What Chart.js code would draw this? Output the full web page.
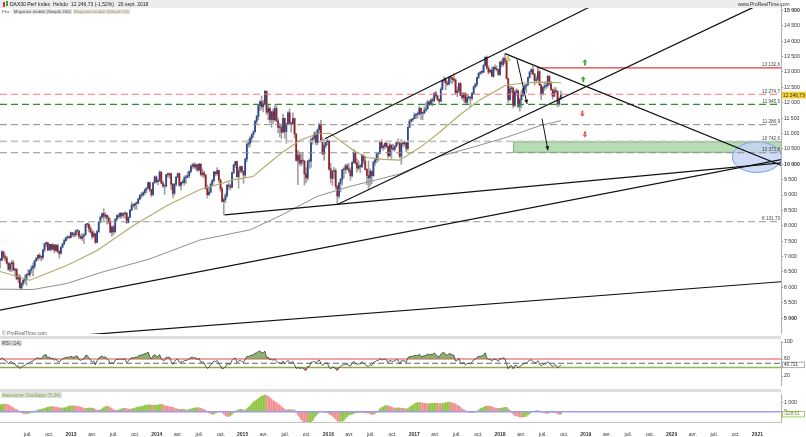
<!DOCTYPE html>
<html>
<head>
<meta charset="utf-8">
<title>DAX30 Perf Index - Hebdo</title>
<script src="https://cdn.jsdelivr.net/npm/chart.js@4.4.1/dist/chart.umd.min.js"></script>
<style>
  body { margin:0; background:#fff; font-family:"Liberation Sans", Arial, sans-serif; }
  #wrap { position:relative; width:806px; height:437px; overflow:hidden; background:#fff; }
  canvas { position:absolute; left:0; }
  .sep { position:absolute; left:0; width:781px; height:3px; background:#dedede; }
  .txt { position:absolute; font-size:5px; line-height:6px; white-space:nowrap; z-index:3; color:#222; }
  #band { position:absolute; left:0; top:0; width:781px; height:8px; background:#ececec; z-index:2; }
  .box { background:#e3e3e3; padding:0 1px; }
  #legendRow { font-size:4.3px; }
  #legendRow span { margin-right:1px; }
</style>
</head>
<body>
<div id="wrap">
  <div class="sep" style="top:336px"></div>
  <div class="sep" style="top:389px"></div>
  <canvas id="main" width="806" height="338" style="top:0"></canvas>
  <canvas id="rsi" width="806" height="53" style="top:337px"></canvas>
  <canvas id="ao" width="806" height="47" style="top:390px"></canvas>

  <div id="band"></div>
  <div style="position:absolute;left:3px;top:2px;width:2px;height:5px;background:#d33;z-index:3"></div>
  <div style="position:absolute;left:6px;top:1px;width:2px;height:5px;background:#3a3;z-index:3"></div>
  <div class="txt" style="left:10px;top:1px;color:#111">DAX30 Perf Index</div>
  <div class="txt" style="left:53px;top:1px">Hebdo</div>
  <div class="txt" style="left:71px;top:1px">12 246,73 (-1,52%)</div>
  <div class="txt" style="left:118px;top:1px">20 sept. 2018</div>
  <div class="txt" style="left:738px;top:1px;color:#333">www.ProRealTime.com</div>
  <div class="txt" id="legendRow" style="left:2px;top:9px;color:#444">
    <span>Prix :</span><span class="box" style="color:#555">Moyenne mobile (Simple 200)</span><span class="box" style="color:#a39b55">Moyenne mobile (Simple 50)</span>
  </div>
  <div class="txt" style="left:2px;top:330px;color:#666">© ProRealTime.com</div>
  <div class="txt box" style="left:1px;top:340px;color:#444">RSI (14)</div>
  <div class="txt box" style="left:1px;top:392px;color:#7aa83a">Awesome Oscillator (5,34)</div>
</div>

<script>
// weekly closes before the visible range (Jul 2011 - Feb 2012), only used to warm up the indicators
const preCloses = [7121,7419,7419,7220,7344,7158,6236,5997,5480,5537,5246,5190,5574,5334,5502,5675,5967,5971,6346,5966,6057,5800,5492,6080,5987,5702,5878,5898,6058,6143,6404,6511,6766,6692,6849,6864];

// weekly candles, first week starts 2012-02-27 ; open = previous close
const firstWeek = '2012-02-27';
const closes2012 = [6922,6880,7157,6996,6947,6775,6583,6762,6801,6561,6579,6271,6339,5978,6130,6229,6263,6416,6410,6558,6630,6689,6866,6945,7041,6972,6970,7214,7412,7451,7216,7398,7233,7380,7203,7363,7163,7101,7309,7405,7517,7614,7636,7612];
const highs2012  = [7001,6946,7194,7158,7078,7012,6818,6800,6875,6878,6625,6620,6430,6416,6165,6288,6392,6440,6576,6566,6706,6800,6880,6977,7066,7108,7027,7234,7440,7478,7460,7406,7400,7422,7395,7398,7402,7210,7320,7441,7570,7620,7676,7665];
const lows2012   = [6802,6631,6870,6925,6853,6752,6545,6505,6502,6550,6364,6258,6151,5969,5914,6054,6132,6061,6388,6335,6462,6367,6600,6840,6890,6910,6860,6904,7150,7320,7180,7200,7180,7226,7120,7170,7120,6950,7080,7280,7400,7490,7560,7586];

const closes2013 = [7776,7715,7702,7833,7833,7652,7593,7661,7708,8045,8043,7913,7795,7658,7745,7459,7814,8122,8279,8398,8305,8349,8254,8127,7790,7959,7806,8213,8331,8300,8410,8338,8391,8416,8103,8276,8509,8675,8661,8725,8725,8868,8985,9009,9078,9168,9225,9405,9172,9006,9400,9589];
const highs2013  = [7800,7776,7780,7865,7871,7840,7720,7755,7740,8059,8076,8080,7990,7871,7826,7760,7860,8145,8318,8411,8557,8434,8350,8315,8240,8000,8010,8231,8360,8400,8423,8426,8430,8450,8420,8290,8530,8770,8710,8740,8778,8904,9019,9082,9112,9200,9240,9424,9407,9190,9410,9620];
const lows2013   = [7610,7645,7630,7650,7704,7580,7570,7520,7420,7690,7950,7800,7760,7570,7612,7419,7455,7780,8090,8230,8170,8230,8050,8060,7780,7655,7710,7780,8150,8240,8240,8250,8270,8240,8080,8090,8270,8490,8580,8530,8540,8720,8840,8910,8960,9010,9080,9200,9100,8950,9000,9380];

const closes2014 = [9435,9473,9742,9392,9306,9290,9662,9656,9692,9350,9056,9342,9587,9695,9315,9409,9401,9556,9581,9630,9768,9943,9987,9912,9987,9815,10009,9666,9720,9644,9210,9009,9092,9339,9470,9747,9691,9799,9490,9195,8788,8850,8987,9326,9291,9252,9732,9980,10087,9594,9787,9923];
const highs2014  = [9620,9511,9794,9760,9460,9310,9670,9720,9720,9710,9380,9380,9600,9720,9720,9420,9500,9620,9640,9740,9790,9960,10030,10050,10020,9990,10030,10010,9850,9780,9680,9330,9260,9400,9510,9770,9760,9891,9800,9520,9250,8900,9050,9340,9400,9350,9740,10000,10093,10100,9900,9950];
const lows2014   = [9390,9330,9440,9360,9240,9017,9260,9580,9550,9180,8908,9000,9290,9560,9280,9170,9360,9320,9380,9570,9550,9720,9860,9870,9820,9760,9780,9620,9590,9560,9180,8903,8990,9070,9290,9420,9620,9640,9420,9120,8780,8355,8760,8930,9180,9160,9230,9700,9900,9580,9219,9720];

const closes2015 = [9765,9649,10168,10649,10694,10846,10963,11050,11401,11551,11901,12040,11868,11967,12375,11689,11811,11454,11709,11447,11815,11413,11197,11197,11040,11492,11058,11315,11673,11347,11309,11490,10985,10124,10298,10038,10123,10104,9688,9553,10096,10104,10795,10850,10988,10708,11119,11293,10752,10340,10608,10728,10743];
const highs2015  = [9930,9800,10200,10700,10810,10900,10990,11090,11420,11600,11920,12060,12220,12080,12390,12380,11950,11870,11710,11800,11920,11890,11500,11330,11280,11630,11500,11340,11710,11800,11370,11670,11500,10990,10450,10400,10350,10370,10120,9890,10130,10190,10850,10900,11060,11060,11150,11340,11430,10860,10800,10760,10820];
const lows2015   = [9720,9380,9600,10080,10540,10580,10720,10870,11040,11320,11450,11740,11780,11700,11940,11620,11450,11350,11200,11310,11400,11380,11030,10890,10830,11030,10860,10680,11300,11320,11040,11300,10850,10100,9338,9970,9950,10000,9325,9390,9480,9860,9900,10650,10750,10630,10640,11020,10710,10300,10130,10530,10620];

const closes2016 = [9849,9545,9764,9798,9286,8967,9388,9513,9824,9831,9950,9851,9794,9622,10051,10373,10039,9870,9952,9917,10287,10103,9834,9631,9557,9776,9630,10067,10147,10337,10367,10713,10544,10588,10684,10573,10276,10626,10511,10490,10580,10711,10696,10259,10668,10664,10699,10513,11203,11404,11450,11481];
const highs2016  = [10780,10030,9800,9900,9850,9310,9410,9540,9830,9890,10000,10010,10030,9890,10090,10480,10400,10180,10110,9990,10300,10310,10230,9860,10110,9850,9780,10100,10200,10350,10400,10750,10800,10640,10700,10750,10600,10690,10630,10660,10620,10740,10830,10710,10800,10750,10760,10720,11210,11450,11480,11500];
const lows2016   = [9800,9400,9310,9530,9200,8699,8900,9100,9330,9550,9700,9810,9710,9480,9590,10040,10000,9740,9820,9730,9900,10000,9810,9340,9214,9300,9370,9600,9960,10050,10100,10340,10500,10450,10500,10530,10200,10250,10160,10440,10420,10560,10640,10200,10000,10560,10600,10400,10450,11180,11360,11390];

const closes2017 = [11599,11629,11630,11814,11651,11666,11757,11804,12027,11963,12095,12064,12313,12225,12109,12049,12438,12717,12770,12638,12602,12823,12816,12753,12733,12325,12389,12632,12240,12163,12298,12014,12165,12168,12143,12304,12519,12592,12829,12956,12992,12992,13218,13479,13127,12994,13060,12861,13154,13104,13073,12918];
const highs2017  = [11670,11640,11700,11890,11830,11700,11870,12000,12080,12060,12130,12160,12330,12375,12250,12120,12490,12730,12840,12810,12700,12850,12880,12830,12950,12790,12520,12650,12650,12340,12320,12330,12270,12230,12200,12330,12550,12640,12830,12980,13020,13050,13240,13490,13526,13200,13080,13150,13170,13230,13200,13090];
const lows2017   = [11480,11480,11500,11600,11450,11450,11640,11700,11780,11900,11920,11890,12030,12150,12060,11930,12030,12420,12660,12420,12560,12580,12650,12620,12680,12290,12200,12320,12220,12100,12040,11990,11940,12080,11868,12080,12280,12470,12530,12780,12920,12930,12980,13200,13090,12930,12990,12850,12820,13060,13030,12890];

const closes2018 = [13320,13245,13434,13340,12785,12107,12452,12483,11914,12346,12390,11886,12097,12241,12442,12540,12580,12820,13001,13078,12938,12724,12767,13011,12580,12306,12496,12541,12561,12860,12616,12424,12211,12394,12364,11960,12124,12246.73];
const highs2018  = [13340,13390,13480,13597,13400,12800,12550,12530,12490,12400,12460,12420,12150,12400,12480,12600,12590,12830,13020,13100,13200,12950,12860,13170,13050,12590,12530,12630,12690,12890,12870,12690,12440,12490,12490,12400,12180,12380];
const lows2018   = [12880,13160,13190,13270,12770,12000,12070,12330,11830,11880,12240,11840,11726,11830,12200,12380,12330,12560,12800,12920,12900,12570,12640,12710,12550,12100,12250,12400,12460,12500,12560,12400,12110,12190,12320,11865,11900,12100];

const lastClose = 12246.73, lastCloseLabel = '12 246,73';

// moving averages (decimal year, value)
const ma50Years = [2012.17,2012.52,2012.95,2013.30,2013.72,2014.12,2014.50,2014.89,2015.12,2015.28,2015.47,2015.67,2015.87,2016.02,2016.29,2016.45,2016.64,2016.83,2017.07,2017.30,2017.53,2017.77,2018.06,2018.27,2018.47,2018.71];
const ma50      = [6518,6229,6710,7192,7995,8659,9172,9493,9600,9975,10401,10777,10992,11010,10456,10221,10158,10135,10550,11050,11600,12100,12560,12640,12670,12650];
const ma200Years = [2012.17,2012.56,2012.95,2013.34,2013.92,2014.50,2015.09,2015.47,2015.87,2016.25,2016.83,2017.30,2017.69,2018.08,2018.47,2018.71];
const ma200      = [5940,5930,6123,6476,6925,7535,7870,8370,8957,9278,9685,10260,10560,10880,11258,11418];

// axis ticks
const priceTicks = [5000,5500,6000,6500,7000,7500,8000,8500,9000,9500,10000,10500,11000,11500,12000,12500,13000,13500,14000,14500,15000];
const rsiTicks = [20,60,100];
const aoTicks = [0,1000];
const xTickLabels = ['juil.','oct.','2013','avr.','juil.','oct.','2014','avr.','juil.','oct.','2015','avr.','juil.','oct.','2016','avr.','juil.','oct.','2017','avr.','juil.','oct.','2018','avr.','juil.','oct.','2019','avr.','juil.','oct.','2020','avr.','juil.','oct.','2021'];

// drawings on the price pane (decimal year, price)
const hLineValues = [13132.6,12274.7,11945.5,11286.9,10742.6,10373.8,8131.73];
const hLineLabels = ['13 132,6','12 274,7','11 945,5','11 286,9','10 742,6','10 373,8','8 131,73'];
const trendFrom = [[2014.79,8355],[2016.11,8699],[2018.06,13597],[2012.0,5166],[2012.0,4206],[2015.96,10831]];
const trendTo   = [[2021.4,10078],[2021.03,15205],[2021.4,9823],[2021.4,10221],[2021.4,6208],[2019.2,15328]];
const zone = { from:2018.152, low:10373.8, high:10742.6 };
const ellipseCenter = [2020.995,10231], ellipseRadius = [0.286,497];
const arrowFrom = [[2018.198,13408],[2018.49,11480]];
const arrowTo   = [[2018.315,11965],[2018.559,10454]];
const upSignals = [[2018.99,13312],[2018.97,12767]];
const downSignals = [[2018.96,11643],[2018.99,10969]];
const alertMark = [2018.093,13440];
const rsiLastLabel = '46.721', rsiLastValue = 46.721;
const aoLastLabel = '-228.61', aoLastValue = -228.61;

// ---------------------------------------------------------------
const closes = [].concat(closes2012,closes2013,closes2014,closes2015,closes2016,closes2017,closes2018);
const highs  = [].concat(highs2012,highs2013,highs2014,highs2015,highs2016,highs2017,highs2018);
const lows   = [].concat(lows2012,lows2013,lows2014,lows2015,lows2016,lows2017,lows2018);
const opens  = closes.map((c,i) => i === 0 ? preCloses[preCloses.length-1] : closes[i-1]);

function yearFrac(d) {
  const y = d.getUTCFullYear(), s = Date.UTC(y,0,1), e = Date.UTC(y+1,0,1);
  return y + (d - s) / (e - s);
}
const t0 = Date.parse(firstWeek + 'T00:00:00Z');
const weekX = closes.map((_, i) => yearFrac(new Date(t0 + i * 7 * 86400000)));

// indicators
const allClose = preCloses.concat(closes);
const median = preCloses.concat(highs.map((h, i) => (h + lows[i]) / 2));
function sma(arr, n, j) { let s = 0; for (let k = j - n + 1; k <= j; k++) s += arr[k]; return s / n; }
const off = preCloses.length;
const ao = closes.map((_, i) => sma(median, 5, i + off) - sma(median, 34, i + off));
const rsiAll = [];
let ag = 0, al = 0;
for (let j = 1; j < allClose.length; j++) {
  const d = allClose[j] - allClose[j-1], g = Math.max(d, 0), l = Math.max(-d, 0);
  if (j <= 14) { ag += g / 14; al += l / 14; } else { ag = (ag * 13 + g) / 14; al = (al * 13 + l) / 14; }
  rsiAll[j] = al === 0 ? 100 : 100 - 100 / (1 + ag / al);
}
const rsi = closes.map((_, i) => rsiAll[i + off]);

// ---------------------------------------------------------------
const FONT = '"Liberation Sans", Arial, sans-serif';
Chart.defaults.font.family = FONT;
Chart.defaults.animation = false;
const X_MIN = 2012.1725, X_MAX = 2021.275;
const UP = '#2a4890', DOWN = '#9c2127';
const spaced = v => String(v).replace(/\B(?=(\d{3})+(?!\d))/g, ' ');

const monthStarts = [0, 90/365, 181/365, 273/365];
const xTickValues = xTickLabels.map((_, k) => 2012 + Math.floor((k + 2) / 4) + monthStarts[(k + 2) % 4]);

function rightAxis(min, max, values, fmt, bold) {
  return {
    position: 'right', min, max,
    afterFit(s) { s.width = 25; },
    afterBuildTicks(s) { s.ticks = values.map(v => ({ value: v })); },
    grid: { drawOnChartArea: false, drawTicks: true, tickLength: 2, color: '#999' },
    border: { display: true, color: '#b0b0b0' },
    ticks: {
      autoSkip: false, maxRotation: 0, padding: 1, color: '#333', callback: fmt,
      font: c => ({ size: 5.2, family: FONT, weight: bold && c.tick && bold(c.tick.value) ? 'bold' : 'normal' })
    }
  };
}
const hiddenX = { type: 'linear', min: X_MIN, max: X_MAX, display: false, offset: false };

function line(xs, ys, color, width, dash, order) {
  return { type: 'line', data: xs.map((x, i) => ({ x, y: ys[i] })), borderColor: color, borderWidth: width,
    borderDash: dash || [], pointRadius: 0, fill: false, tension: 0, order: order || 4 };
}

// ---------------- price pane ----------------
const hLineStyles = [
  { color: '#de3b3b', w: 1.1, dash: [], from: 2018.43 },
  { color: '#ec7b7b', w: 1.1, dash: [7,4] },
  { color: '#2f8f2f', w: 1.1, dash: [7,4] },
  { color: '#8a8a8a', w: 1, dash: [7,4] },
  { color: '#c4c4c4', w: 1.6, dash: [7,4] },
  { color: '#8f8f8f', w: 1, dash: [7,4] },
  { color: '#9a9a9a', w: 1, dash: [7,4] }
];
const hLineSets = hLineValues.map((v, i) => {
  const st = hLineStyles[i];
  return line([st.from || X_MIN, X_MAX], [v, v], st.color, st.w, st.dash, 6);
});
const trendSets = trendFrom.map((p, i) => line([p[0], trendTo[i][0]], [p[1], trendTo[i][1]], '#111', 1.2, [], 2));

function drawArrow(ctx, x1, y1, x2, y2) {
  ctx.beginPath(); ctx.moveTo(x1, y1); ctx.lineTo(x2, y2); ctx.stroke();
  const a = Math.atan2(y2 - y1, x2 - x1), L = 4, W = 2;
  ctx.beginPath();
  ctx.moveTo(x2, y2);
  ctx.lineTo(x2 - L * Math.cos(a) + W * Math.sin(a), y2 - L * Math.sin(a) - W * Math.cos(a));
  ctx.lineTo(x2 - L * Math.cos(a) - W * Math.sin(a), y2 - L * Math.sin(a) + W * Math.cos(a));
  ctx.closePath(); ctx.fill();
}
function drawSignal(ctx, cx, cy, up, color) {
  const d = up ? -1 : 1;
  ctx.fillStyle = color;
  ctx.beginPath(); ctx.moveTo(cx - 2.5, cy); ctx.lineTo(cx, cy + 3 * d); ctx.lineTo(cx + 2.5, cy); ctx.closePath(); ctx.fill();
  ctx.fillRect(cx - 1, up ? cy : cy - 3, 2, 3);
}

const priceDrawings = {
  id: 'priceDrawings',
  beforeDatasetsDraw(chart) {
    const { ctx, chartArea: a, scales: { x, y } } = chart;
    ctx.save();
    ctx.beginPath(); ctx.rect(a.left, a.top, a.width, a.height); ctx.clip();
    const zx = x.getPixelForValue(zone.from), zt = y.getPixelForValue(zone.high), zb = y.getPixelForValue(zone.low);
    ctx.fillStyle = 'rgba(150,205,150,0.7)';
    ctx.fillRect(zx, zt, a.right - zx, zb - zt);
    ctx.strokeStyle = '#7fb87f'; ctx.lineWidth = 1;
    ctx.strokeRect(zx + 0.5, zt + 0.5, a.right - zx, zb - zt - 1);
    const ex = x.getPixelForValue(ellipseCenter[0]), ey = y.getPixelForValue(ellipseCenter[1]);
    const rx = x.getPixelForValue(ellipseCenter[0] + ellipseRadius[0]) - ex;
    const ry = ey - y.getPixelForValue(ellipseCenter[1] + ellipseRadius[1]);
    ctx.beginPath(); ctx.ellipse(ex, ey, rx, ry, 0, 0, Math.PI * 2);
    ctx.fillStyle = 'rgba(196,210,245,0.8)'; ctx.fill();
    ctx.strokeStyle = '#7d9be0'; ctx.stroke();
    ctx.restore();
  },
  afterDatasetsDraw(chart) {
    const { ctx, chartArea: a, scales: { x, y } } = chart;
    ctx.save();
    ctx.strokeStyle = '#111'; ctx.fillStyle = '#111'; ctx.lineWidth = 1;
    arrowFrom.forEach((p, i) => drawArrow(ctx, x.getPixelForValue(p[0]), y.getPixelForValue(p[1]),
      x.getPixelForValue(arrowTo[i][0]), y.getPixelForValue(arrowTo[i][1])));
    upSignals.forEach(p => drawSignal(ctx, x.getPixelForValue(p[0]), y.getPixelForValue(p[1]), true, '#3da534'));
    downSignals.forEach(p => drawSignal(ctx, x.getPixelForValue(p[0]), y.getPixelForValue(p[1]), false, '#e05555'));
    // alert mark at the 2018 top
    const mx = x.getPixelForValue(alertMark[0]), my = y.getPixelForValue(alertMark[1]);
    ctx.beginPath(); ctx.moveTo(mx - 2.5, my + 2); ctx.lineTo(mx, my - 2.5); ctx.lineTo(mx + 2.5, my + 2); ctx.closePath();
    ctx.fillStyle = '#f1d23a'; ctx.fill(); ctx.strokeStyle = '#999'; ctx.lineWidth = 0.6; ctx.stroke();
    // labels of horizontal lines
    ctx.font = '4.6px ' + FONT; ctx.fillStyle = '#444'; ctx.textAlign = 'right'; ctx.textBaseline = 'bottom';
    hLineValues.forEach((v, i) => ctx.fillText(hLineLabels[i], a.right - 1, y.getPixelForValue(v) - 0.5));
    ctx.restore();
  },
  afterDraw(chart) {
    const { ctx, chartArea: a, scales: { y } } = chart;
    const py = y.getPixelForValue(lastClose);
    ctx.save();
    ctx.fillStyle = '#f4d13a'; ctx.fillRect(a.right + 1, py - 3.5, chart.width - a.right - 1, 7);
    ctx.fillStyle = '#333'; ctx.font = '4.9px ' + FONT; ctx.textAlign = 'left'; ctx.textBaseline = 'middle';
    ctx.fillText(lastCloseLabel, a.right + 2, py + 0.3);
    ctx.restore();
  }
};

new Chart(document.getElementById('main'), {
  type: 'bar',
  data: {
    datasets: [
      { type: 'bar', data: weekX.map((x, i) => ({ x, y: [lows[i], highs[i]] })), backgroundColor: '#a2a2a2',
        barThickness: 1, grouped: false, order: 10 },
      { type: 'bar', data: weekX.map((x, i) => ({ x, y: [opens[i], closes[i]] })),
        backgroundColor: closes.map((c, i) => c >= opens[i] ? UP : DOWN),
        barThickness: 1.1, minBarLength: 1, grouped: false, order: 9 },
      line(ma200Years, ma200, '#8f8f8f', 1, [], 5),
      line(ma50Years, ma50, '#b3a86a', 1.1, [], 5),
      ...hLineSets,
      ...trendSets
    ]
  },
  options: {
    responsive: false,
    layout: { padding: { top: 2, bottom: 2, left: 0, right: 0 } },
    plugins: { legend: { display: false }, tooltip: { enabled: false } },
    scales: {
      x: hiddenX,
      y: rightAxis(4487, 15205, priceTicks, v => spaced(v), v => v % 5000 === 0)
    }
  },
  plugins: [priceDrawings]
});

// ---------------- RSI pane ----------------
function valueBox(getValue, label, border, color) {
  return {
    id: 'valueBox',
    afterDraw(chart) {
      const { ctx, chartArea: a, scales: { y } } = chart;
      const py = y.getPixelForValue(getValue);
      ctx.save();
      ctx.fillStyle = '#fff'; ctx.fillRect(a.right + 1, py - 3, 23, 6);
      ctx.strokeStyle = border; ctx.lineWidth = 0.8; ctx.strokeRect(a.right + 1.5, py - 2.5, 22, 5.5);
      ctx.fillStyle = color; ctx.font = '4.6px ' + FONT; ctx.textAlign = 'left'; ctx.textBaseline = 'middle';
      ctx.fillText(label, a.right + 3, py + 0.3);
      ctx.restore();
    }
  };
}
const rsiPts = weekX.map((x, i) => ({ x, y: rsi[i] }));
new Chart(document.getElementById('rsi'), {
  type: 'line',
  data: {
    datasets: [
      { data: rsiPts, borderColor: '#3a3a3a', borderWidth: 0.8, pointRadius: 0, fill: false, order: 1 },
      { data: rsiPts, borderWidth: 0, pointRadius: 0, order: 3,
        fill: { target: { value: 60 }, above: 'rgba(112,158,74,0.8)', below: 'rgba(0,0,0,0)' } },
      { data: rsiPts, borderWidth: 0, pointRadius: 0, order: 3,
        fill: { target: { value: 40 }, above: 'rgba(0,0,0,0)', below: 'rgba(222,80,80,0.85)' } },
      line([X_MIN, X_MAX], [60, 60], '#f3a5a5', 2, [], 4),
      line([X_MIN, X_MAX], [50, 50], '#666', 1.1, [6,3], 4),
      line([X_MIN, X_MAX], [40, 40], '#86bd4c', 1.4, [], 4)
    ]
  },
  options: {
    responsive: false,
    layout: { padding: { top: 2, bottom: 1, left: 0, right: 0 } },
    plugins: { legend: { display: false }, tooltip: { enabled: false } },
    scales: { x: hiddenX, y: rightAxis(-3.16, 102.1, rsiTicks, v => String(v)) }
  },
  plugins: [valueBox(rsiLastValue, rsiLastLabel, '#999', '#333')]
});

// ---------------- Awesome oscillator pane ----------------
new Chart(document.getElementById('ao'), {
  type: 'bar',
  data: {
    datasets: [
      { type: 'bar', data: weekX.map((x, i) => ({ x, y: ao[i] })),
        backgroundColor: ao.map((v, i) => (i === 0 || v >= ao[i-1]) ? '#8cc43c' : '#f08e8e'),
        barThickness: 1, grouped: false, order: 5 },
      line([X_MIN, X_MAX], [0, 0], '#9c9cf2', 1.5, [], 1)
    ]
  },
  options: {
    responsive: false,
    layout: { padding: { top: 2, bottom: 0, left: 0, right: 0 } },
    plugins: { legend: { display: false }, tooltip: { enabled: false } },
    scales: {
      x: {
        type: 'linear', min: X_MIN, max: X_MAX, offset: false, position: 'bottom',
        afterFit(s) { s.height = 15; },
        afterBuildTicks(s) { s.ticks = xTickValues.map(v => ({ value: v })); },
        grid: { display: false },
        border: { display: true, color: '#c4c4c4' },
        ticks: {
          autoSkip: false, maxRotation: 0, padding: 2, color: '#333',
          callback: (v, i) => xTickLabels[i],
          font: c => ({ size: 5, family: FONT, weight: /^\d{4}$/.test(xTickLabels[c.index] || '') ? 'bold' : 'normal' })
        }
      },
      y: rightAxis(-1100, 1900, aoTicks, v => spaced(v))
    }
  },
  plugins: [valueBox(aoLastValue, aoLastLabel, '#8cc43c', '#5b8f22')]
});
</script>
</body>
</html>
